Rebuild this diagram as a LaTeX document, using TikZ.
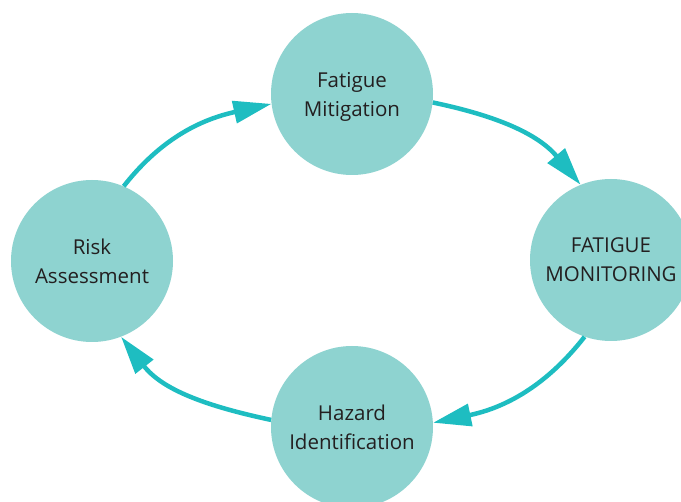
\documentclass[tikz,border=0pt]{standalone}
\usepackage{fontspec}
\setmainfont{Open Sans}
\usetikzlibrary{arrows.meta}
\definecolor{disc}{HTML}{8ED3D0}
\definecolor{flow}{HTML}{1EBDC1}
\definecolor{ink}{HTML}{231F20}
\begin{document}
\begin{tikzpicture}[x=1pt,y=1pt,
  stage/.style={circle, fill=disc, inner sep=0pt, minimum size=162pt,
    align=center, text=ink, font=\fontsize{20.5}{29}\selectfont},
  cycle/.style={draw=flow, line width=4.5pt,
    -{Triangle[length=38pt,width=22pt]}}]
  \useasboundingbox (0,0) rectangle (681,-502);
  \clip (0,0) rectangle (681,-502);
  % the four stages of the cycle
  \node[stage] (T) at (352,-94)  {Fatigue\\\smash{Mitigation}};
  \node[stage] (R) at (611,-260) {FATIGUE\\MONITORING};
  \node[stage] (B) at (352,-427) {Hazard\\Identification};
  \node[stage] (L) at (92,-261)  {Risk\\Assessment};
  % clockwise connectors
  \draw[cycle] (L.67)   to[out=52,  in=192.5] (T.187.5);
  \draw[cycle] (T.-6.4) to[out=-11.8, in=130] (R.112);
  \draw[cycle] (R.251)  to[out=232, in=11.8]  (B.3.5);
  \draw[cycle] (B.175)  to[out=168, in=308]   (L.291);
\end{tikzpicture}
\end{document}
